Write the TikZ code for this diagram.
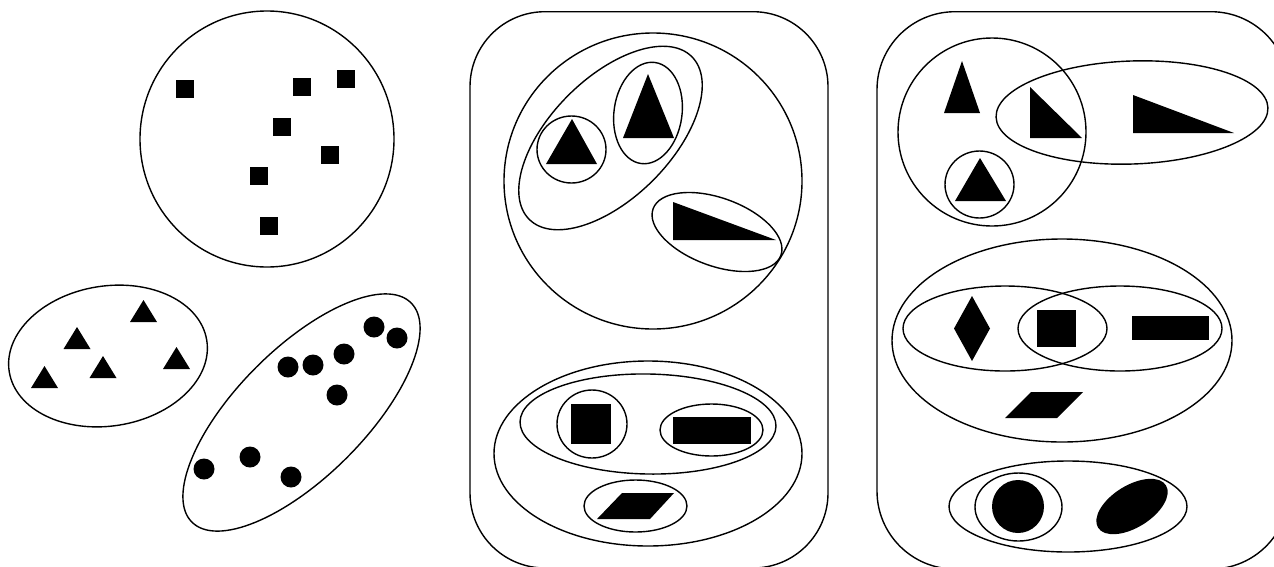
\documentclass[tikz,border=0pt]{standalone}
\usetikzlibrary{calc}
\tikzset{
  ring/.style={draw=black, line width=1.4pt, fill=none},
  blob/.style={fill=black, draw=none},
}
\newcommand\sqbox[2]{\fill[blob] ({#1-9},{-#2+9}) rectangle ({#1+9},{-#2-9});}
\newcommand\smalltri[2]{\fill[blob] (#1,-#2) -- ++(-13.5,-22) -- ++(27,0) -- cycle;}
\newcommand\dotc[2]{\fill[blob] (#1,-#2) circle[radius=10.5pt];}
\newcommand\ringell[5]{\draw[ring, rotate around={#5:(#1,-#2)}] (#1,-#2) ellipse [x radius=#3pt, y radius=#4pt];}
\begin{document}
\begin{tikzpicture}[x=1pt,y=1pt]
\useasboundingbox (0,0) rectangle (1274,-566);

% ---------- Panel 1 ----------
\ringell{267}{139}{127}{128}{0}
\sqbox{185}{89}
\sqbox{302}{87}
\sqbox{346}{79}
\sqbox{282}{127}
\sqbox{330}{155}
\sqbox{259}{176}
\sqbox{269}{226}

\ringell{108}{356}{100}{70}{9}
\smalltri{143.5}{300}
\smalltri{77}{327}
\smalltri{103}{356}
\smalltri{176.5}{347}
\smalltri{44.5}{366}

\ringell{301.5}{412.5}{155}{64}{45}
\dotc{374}{327}
\dotc{397}{338}
\dotc{344}{354}
\dotc{313}{365}
\dotc{288}{367}
\dotc{337}{395}
\dotc{250}{457}
\dotc{204}{469}
\dotc{291}{477}

% ---------- Panel 2 ----------
\draw[ring, rounded corners=75pt] (470,-11.7) rectangle (828,-568);
\ringell{653}{181}{149}{148}{0}
\ringell{610.5}{138}{115}{60}{45}
\ringell{571.5}{149.5}{34.5}{33.5}{0}
\fill[blob] (572,-119) -- (597,-164) -- (546,-164) -- cycle;
\ringell{648}{113}{34}{51}{-8}
\fill[blob] (648,-74) -- (674,-138) -- (623,-138) -- cycle;
\ringell{717}{232}{68}{34}{-20}
\fill[blob] (673,-202) -- (776,-240) -- (673,-240) -- cycle;

\ringell{648}{453.5}{154}{92.5}{0}
\ringell{648}{424}{128}{50}{-1}
\ringell{592}{424}{35}{34}{0}
\fill[blob] (571,-403.5) rectangle (611,-443.5);
\ringell{711.5}{430}{51.5}{26}{0}
\fill[blob] (673,-417) rectangle (751,-444);
\ringell{635.5}{506}{51.5}{26}{0}
\fill[blob] (597,-519) -- (650,-519) -- (674,-493) -- (622,-493) -- cycle;

% ---------- Panel 3 ----------
\draw[ring, rounded corners=78pt] (877,-11.7) rectangle (1289,-569);
\ringell{992}{132}{94}{94}{0}
\ringell{1132}{112.5}{136}{51.5}{2}
\fill[blob] (962,-61) -- (980,-113) -- (944,-113) -- cycle;
\fill[blob] (1030,-87) -- (1082,-138) -- (1030,-138) -- cycle;
\fill[blob] (1133,-95) -- (1234,-133) -- (1133,-133) -- cycle;
\ringell{979.5}{184.5}{34.5}{33.5}{0}
\fill[blob] (980,-158) -- (1006,-201) -- (955,-201) -- cycle;

\ringell{1062}{340.5}{170}{101.5}{0}
\ringell{1005}{328.5}{102}{42.5}{0}
\ringell{1120}{328.5}{102}{42.5}{0}
\fill[blob] (972,-296) -- (990,-328.5) -- (972,-361) -- (954,-328.5) -- cycle;
\fill[blob] (1037,-310) rectangle (1076,-347);
\fill[blob] (1132,-316) rectangle (1209,-340);
\fill[blob] (1005,-418) -- (1057,-418) -- (1083,-392) -- (1031,-392) -- cycle;

\ringell{1068}{506.5}{119}{45.5}{0}
\ringell{1018.5}{507}{43.5}{34}{0}
\fill[blob] (1018,-506.5) ellipse [x radius=26pt, y radius=26.5pt];
\fill[blob, rotate around={32:(1132,-506.5)}] (1132,-506.5) ellipse [x radius=40pt, y radius=21pt];
\end{tikzpicture}
\end{document}
